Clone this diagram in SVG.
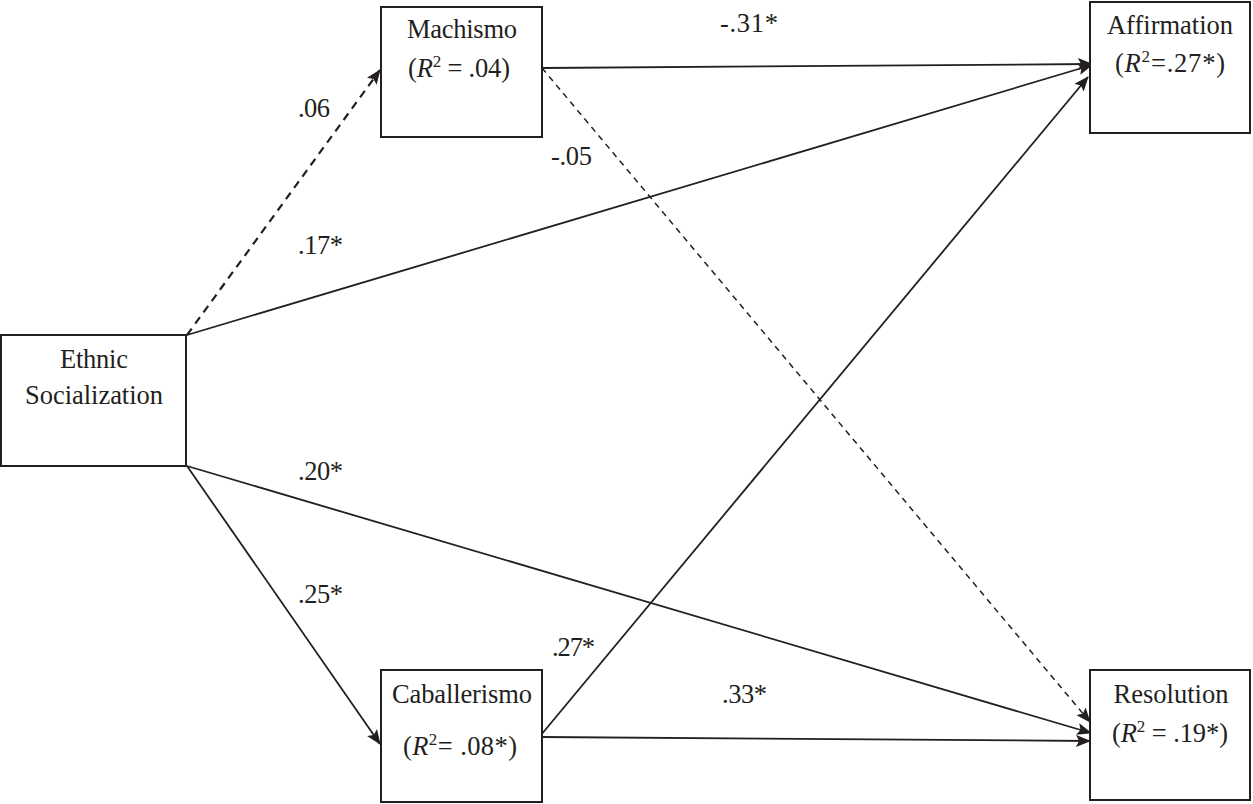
<svg xmlns="http://www.w3.org/2000/svg" width="1253" height="804" viewBox="0 0 1253 804">
<defs>
<style>
.box{fill:#fff;stroke:#231f20;stroke-width:2}
.edge{fill:none;stroke:#231f20;stroke-width:1.8}
.d1{stroke-dasharray:8 6;stroke-width:2.2}
.d2{stroke-dasharray:6 5;stroke-width:1.5}
text{font-family:"Liberation Serif","Times New Roman",serif;font-size:26.5px;fill:#231f20}
.c{text-anchor:middle}
.sup{font-size:17px}
</style>
<marker id="ah" markerUnits="userSpaceOnUse" markerWidth="15" markerHeight="12" viewBox="0 0 15 12" refX="14" refY="6" orient="auto">
<path d="M0,0 L15,6 L0,12 L3,6 Z" fill="#231f20"/>
</marker>
</defs>
<rect width="1253" height="804" fill="#fff"/>
<g id="connectors">
<line class="edge d1" x1="187" y1="335" x2="380" y2="70" marker-end="url(#ah)"/>
<line class="edge" x1="187" y1="335" x2="1092" y2="65" marker-end="url(#ah)"/>
<line class="edge" x1="542" y1="68" x2="1092" y2="64" marker-end="url(#ah)"/>
<line class="edge d2" x1="542" y1="68" x2="1090" y2="722" marker-end="url(#ah)"/>
<line class="edge" x1="541" y1="735" x2="1088" y2="77" marker-end="url(#ah)"/>
<line class="edge" x1="542" y1="737" x2="1090" y2="741" marker-end="url(#ah)"/>
<line class="edge" x1="187" y1="466" x2="1091" y2="733" marker-end="url(#ah)"/>
<line class="edge" x1="187" y1="466" x2="380" y2="744" marker-end="url(#ah)"/>
</g>
<g id="labels">
<text x="314" y="117" class="c" textLength="32">.06</text>
<text x="298" y="254" textLength="45">.17*</text>
<text x="720" y="32" textLength="58">-.31*</text>
<text x="551" y="165" textLength="41">-.05</text>
<text x="298" y="480" textLength="45">.20*</text>
<text x="298" y="603" textLength="45">.25*</text>
<text x="552" y="656" textLength="43">.27*</text>
<text x="722" y="703" textLength="45">.33*</text>
</g>
<g id="node-machismo">
<rect class="box" x="381" y="7" width="161" height="130"/>
<text x="462" y="38" class="c" textLength="110">Machismo</text>
<text x="459" y="77" class="c" textLength="102">(<tspan font-style="italic">R</tspan><tspan class="sup" dy="-10">2</tspan><tspan dy="10"> = .04)</tspan></text>
</g>
<g id="node-affirmation">
<rect class="box" x="1090" y="2" width="160" height="131"/>
<text x="1170" y="34" class="c" textLength="126">Affirmation</text>
<text x="1170" y="72" class="c" textLength="110">(<tspan font-style="italic">R</tspan><tspan class="sup" dy="-10">2</tspan><tspan dy="10">=.27*)</tspan></text>
</g>
<g id="node-ethnic">
<rect class="box" x="1" y="335" width="185" height="131"/>
<text x="94" y="368" class="c" textLength="68">Ethnic</text>
<text x="94" y="404" class="c" textLength="138">Socialization</text>
</g>
<g id="node-caballerismo">
<rect class="box" x="381" y="670" width="161" height="132"/>
<text x="462" y="703" class="c" textLength="140">Caballerismo</text>
<text x="460" y="755" class="c" textLength="114">(<tspan font-style="italic">R</tspan><tspan class="sup" dy="-10">2</tspan><tspan dy="10">= .08*)</tspan></text>
</g>
<g id="node-resolution">
<rect class="box" x="1090" y="670" width="160" height="130"/>
<text x="1171" y="703" class="c" textLength="115">Resolution</text>
<text x="1170" y="742" class="c" textLength="116">(<tspan font-style="italic">R</tspan><tspan class="sup" dy="-10">2</tspan><tspan dy="10"> = .19*)</tspan></text>
</g>
</svg>
